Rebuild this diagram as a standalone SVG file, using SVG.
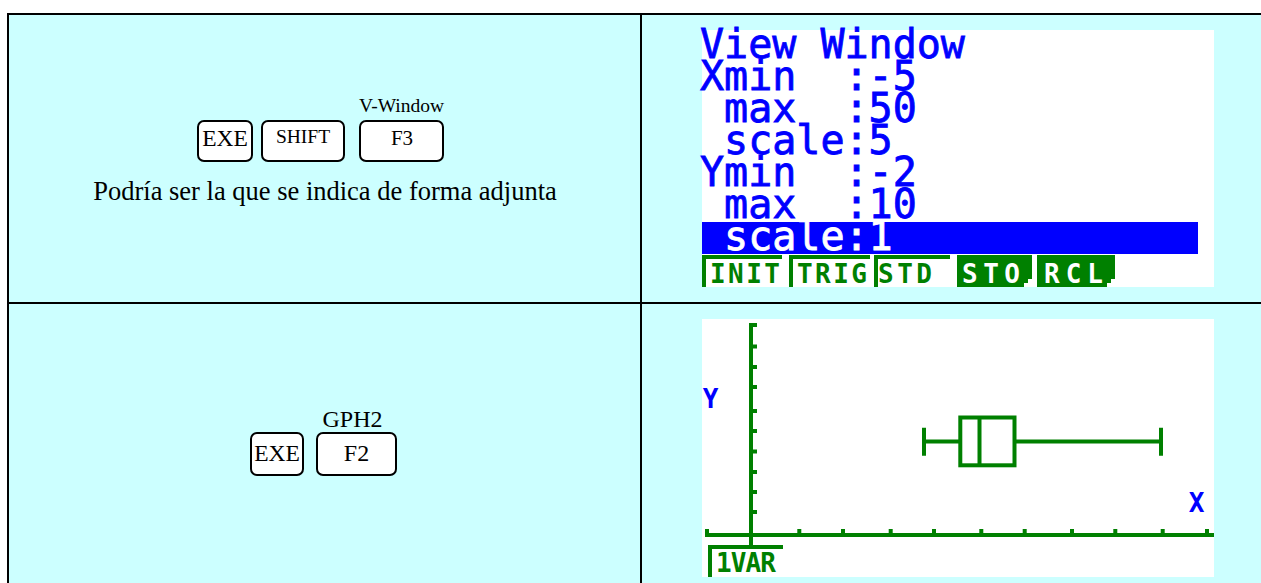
<svg xmlns="http://www.w3.org/2000/svg" width="1261" height="583" viewBox="0 0 1261 583">
<style>
.key{fill:#fff;stroke:#000;stroke-width:2}
.serif{font-family:"Liberation Serif","Times New Roman",serif;fill:#000}
.lcd{font-family:"DejaVu Sans Mono","Liberation Mono",monospace;font-size:40px;stroke-width:0.8}
.sm{font-family:"DejaVu Sans Mono","Liberation Mono",monospace;font-weight:bold;font-size:26px}
.blue{fill:#0000ff;stroke:#0000ff}
.green{fill:#008000}
.white{fill:#fff;stroke:#fff}
.grid{stroke:#000;stroke-width:2;fill:none}
.gl{stroke:#008000;stroke-width:4;fill:none}
</style>
<rect width="1261" height="583" fill="#fff"/>
<g id="table">
<rect x="8" y="14" width="1260" height="580" fill="#ccffff"/>
<path class="grid" d="M7 14H1261M8 13V583M641 14V583M8 303H1261"/>
</g>
<g id="cell-r1c1">
<text class="serif" x="401.5" y="112" font-size="19.5" text-anchor="middle">V-Window</text>
<rect class="key" x="198" y="121" width="54" height="40" rx="6"/>
<text class="serif" x="225" y="146" font-size="23.5" text-anchor="middle">EXE</text>
<rect class="key" x="262" y="121" width="82" height="40" rx="6"/>
<text class="serif" x="303" y="143" font-size="19.5" text-anchor="middle">SHIFT</text>
<rect class="key" x="360" y="121" width="83" height="40" rx="6"/>
<text class="serif" x="402" y="145" font-size="21" text-anchor="middle">F3</text>
<text class="serif" x="325" y="200" font-size="26.5" text-anchor="middle">Podría ser la que se indica de forma adjunta</text>
</g>
<g id="cell-r1c2">
<rect x="702" y="30" width="512" height="257" fill="#fff"/>
<rect x="702" y="222" width="496" height="32" fill="#0000ff"/>
<text class="lcd blue" xml:space="preserve"><tspan x="700" y="58">View Window</tspan><tspan x="700" y="90">Xmin  :-5</tspan><tspan x="700" y="122"> max  :50</tspan><tspan x="700" y="154"> scale:5</tspan><tspan x="700" y="186">Ymin  :-2</tspan><tspan x="700" y="218"> max  :10</tspan><tspan class="white" x="700" y="250"> scale:1</tspan></text>
<path class="gl" d="M704 287V257H782M791 287V257H870M876 287V257H950"/>
<polygon class="green" points="957,255 1032,255 1032,279 1028,279 1028,283 1024,283 1024,287 957,287"/>
<polygon class="green" points="1037,255 1115,255 1115,279 1111,279 1111,283 1107,283 1107,287 1037,287"/>
<text class="sm green" x="745" y="283" text-anchor="middle" textLength="70" lengthAdjust="spacing">INIT</text>
<text class="sm green" x="832" y="283" text-anchor="middle" textLength="70" lengthAdjust="spacing">TRIG</text>
<text class="sm green" x="905" y="283" text-anchor="middle" textLength="54" lengthAdjust="spacing">STD</text>
<text class="sm" fill="#fff" x="991" y="283" text-anchor="middle" textLength="58" lengthAdjust="spacing">STO</text>
<text class="sm" fill="#fff" x="1073.5" y="283" text-anchor="middle" textLength="59" lengthAdjust="spacing">RCL</text>
</g>
<g id="cell-r2c1">
<text class="serif" x="352.5" y="427" font-size="24" text-anchor="middle">GPH2</text>
<rect class="key" x="251" y="433" width="52" height="42" rx="6"/>
<text class="serif" x="277" y="461" font-size="23.5" text-anchor="middle">EXE</text>
<rect class="key" x="317" y="433" width="79" height="42" rx="6"/>
<text class="serif" x="356.5" y="461" font-size="24" text-anchor="middle">F2</text>
</g>
<g id="cell-r2c2">
<rect x="702" y="319" width="512" height="258" fill="#fff"/>
<path class="gl" d="M751 323V545M751 325H757M751 346.5H757M751 367H757M751 387H757M751 411H757M751 431H757M751 451.5H757M751 472H757M751 492H757M751 512H757"/>
<path class="gl" d="M705 535H1214M707 529V535M799.3 529V535M843 529V535M890.7 529V535M934 529V535M981.3 529V535M1024.7 529V535M1072 529V535M1115.3 529V535M1162.7 529V535M1207 529V535"/>
<rect class="gl" x="960.3" y="417.5" width="54.2" height="47.8"/>
<path class="gl" d="M979.5 417.5V465.3M924 441.5H960.3M1014.5 441.5H1161M924 427.7V455.7M1161 427.7V455.7"/>
<text class="sm" fill="#0000ff" x="710.5" y="407.7" font-size="22" text-anchor="middle">Y</text>
<text class="sm" fill="#0000ff" x="1196.5" y="512.3" font-size="22" text-anchor="middle">X</text>
<path class="gl" d="M710 577V547H783"/>
<text class="sm green" x="746" y="572.3" text-anchor="middle" textLength="60" lengthAdjust="spacing">1VAR</text>
</g>
</svg>
